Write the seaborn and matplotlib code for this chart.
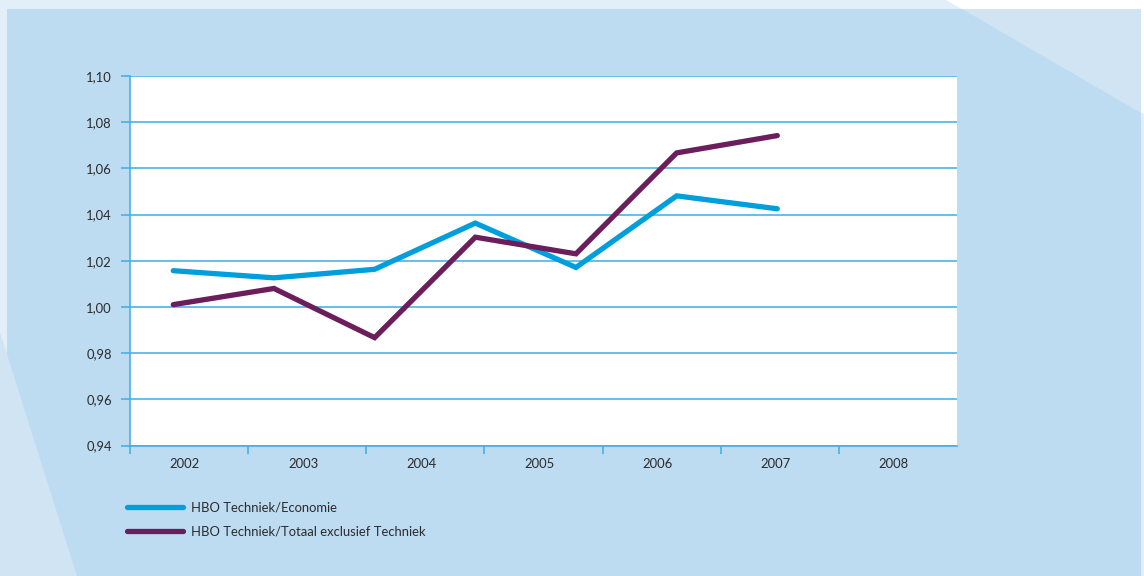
import matplotlib
matplotlib.use("Agg")
import matplotlib.pyplot as plt
from matplotlib.patches import Polygon, Rectangle
from matplotlib.lines import Line2D
import numpy as np
import pandas as pd
import seaborn as sns

# Data
years = ["2002", "2003", "2004", "2005", "2006", "2007", "2008"]
series_names = ["HBO Techniek/Economie", "HBO Techniek/Totaal exclusief Techniek"]
techniek_economie = [1.0157, 1.0126, 1.0163, 1.0363, 1.0171, 1.0481, 1.0425]
techniek_totaal = [1.0010, 1.0080, 0.9867, 1.0302, 1.0230, 1.0667, 1.0742]
y_ticks = [0.94, 0.96, 0.98, 1.00, 1.02, 1.04, 1.06, 1.08, 1.10]

# Styling
PANEL = "#BDDBF1"
PALE = "#E2EFF9"
LIGHTER = "#D0E4F4"
GRID = "#3AAEE4"
BLUE = "#009FDC"
PURPLE = "#6B1D5C"
TEXT = "#2B2B2B"
FS = 9.4

sns.set_theme(style="white")
plt.rcParams["font.family"] = ["Lato", "DejaVu Sans"]

W, H = 1144, 576
fig = plt.figure(figsize=(W / 100, H / 100), dpi=100)
fig.patch.set_facecolor("white")


def fp(pts):
    return [(x / W, 1 - y / H) for x, y in pts]


# Background shapes (kept beneath the axes)
fig.patches.append(Polygon(fp([(0, 0), (946, 0), (1144, 114), (1144, 576), (0, 576)]),
                           closed=True, transform=fig.transFigure, facecolor=PALE,
                           edgecolor="none", zorder=-30))
fig.patches.append(Rectangle((7 / W, 0), (1141 - 7) / W, 1 - 9 / H,
                             transform=fig.transFigure, facecolor=PANEL,
                             edgecolor="none", zorder=-20))
fig.patches.append(Polygon(fp([(962, 9), (1141, 9), (1141, 113)]), closed=True,
                           transform=fig.transFigure, facecolor=LIGHTER,
                           edgecolor="none", zorder=-10))
fig.patches.append(Polygon(fp([(0, 332), (77, 576), (0, 576)]), closed=True,
                           transform=fig.transFigure, facecolor=LIGHTER,
                           edgecolor="none", zorder=-10))

# Main axes
left, right, top, bottom = 130, 957, 76, 445.5
ax = fig.add_axes([left / W, 1 - bottom / H, (right - left) / W, (bottom - top) / H])
ax.set_facecolor("white")
ax.set_ylim(y_ticks[0], y_ticks[-1])
ax.set_yticks(y_ticks)
ax.set_yticklabels([f"{v:.2f}".replace(".", ",") for v in y_ticks], color=TEXT, fontsize=FS)
ax.yaxis.grid(True, color=GRID, linewidth=1.1)
ax.set_axisbelow(True)

n = len(years)
ax.set_xlim(-0.5, n - 0.5)
ax.set_xticks(np.arange(-0.5, n - 1, 1.0))
ax.set_xticklabels([])
ax.set_xticks(np.arange(n) - 0.035, minor=True)
ax.set_xticklabels(years, minor=True, color=TEXT, fontsize=FS)
ax.tick_params(axis="x", which="major", direction="out", length=5.5, width=1.1,
               color=GRID, bottom=True)
ax.tick_params(axis="x", which="minor", length=0, pad=9, bottom=True)
ax.tick_params(axis="y", direction="out", length=6.5, width=1.1, color=GRID,
               pad=6.5, left=True)
for side in ("top", "right"):
    ax.spines[side].set_visible(False)
for side in ("left", "bottom"):
    ax.spines[side].set_color(GRID)
    ax.spines[side].set_linewidth(1.1)
ax.spines["left"].set_bounds(y_ticks[0], y_ticks[-1])

# Series axis sharing y, with its own horizontal scale
ax2 = ax.twiny()
ax2.set_xlim(-0.430, 7.785)
ax2.axis("off")

df = pd.DataFrame({
    "pos": list(range(n)) * 2,
    "value": techniek_economie + techniek_totaal,
    "serie": [series_names[0]] * n + [series_names[1]] * n,
})
sns.lineplot(data=df, x="pos", y="value", hue="serie", hue_order=series_names,
             palette=[BLUE, PURPLE], linewidth=3.8, ax=ax2, legend=False,
             sort=False)
for ln in ax2.lines:
    ln.set_solid_capstyle("round")
    ln.set_solid_joinstyle("miter")
ax2.set_ylim(y_ticks[0], y_ticks[-1])

handles = [Line2D([], [], color=c, linewidth=3.8, solid_capstyle="round")
           for c in (BLUE, PURPLE)]
fig.legend(handles, series_names, loc="upper left",
           bbox_to_anchor=(127 / W, 1 - 502 / H), frameon=False,
           fontsize=FS, handlelength=4.3, handletextpad=0.6,
           labelspacing=0.85, borderpad=0, borderaxespad=0,
           labelcolor=TEXT)

fig.savefig("out.png", dpi=100, facecolor=fig.get_facecolor())
